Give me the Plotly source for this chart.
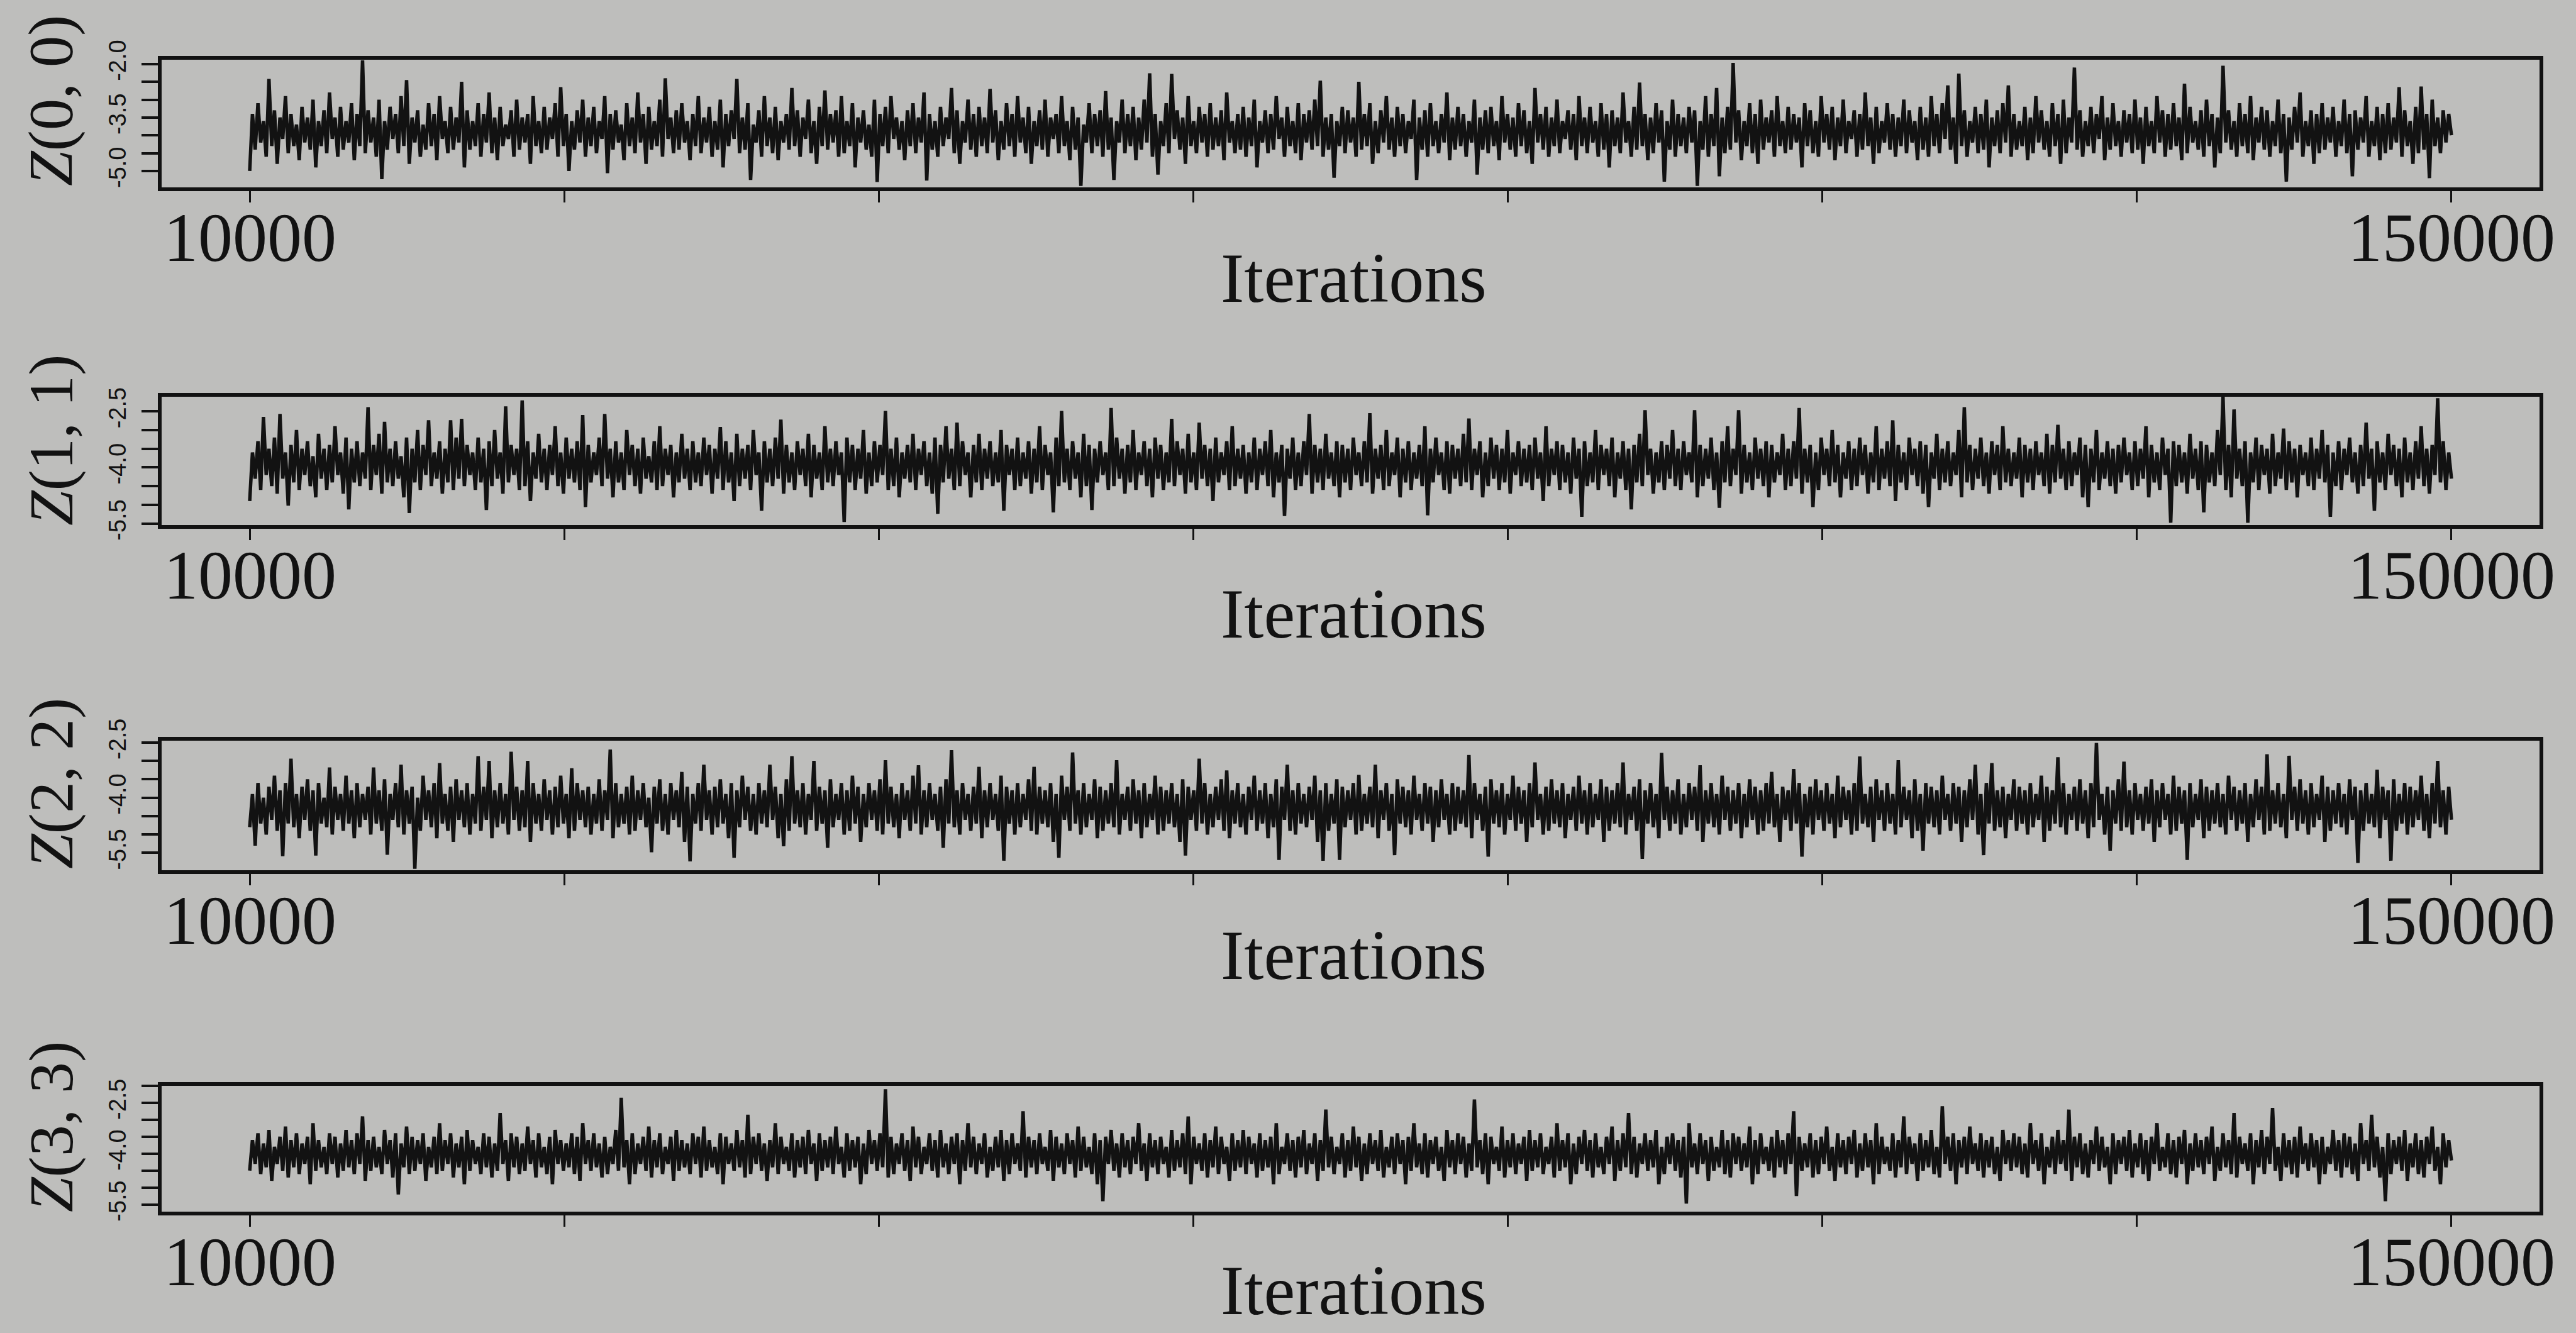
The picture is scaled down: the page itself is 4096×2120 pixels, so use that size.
import plotly.graph_objects as go

# ---------------- data ----------------
# Each trace is stored as its local highs (peaks) and local lows (troughs),
# read off the printed trace; the drawn series alternates trough, peak, trough, ...
ITER_START = 10000
ITER_END = 150000
x_tick_values = [10000, 30000, 50000, 70000, 90000, 110000, 130000, 150000]
x_tick_labels = ["10000", "", "", "", "", "", "", "150000"]

panel_labels = ["<i>Z</i>(0, 0)", "<i>Z</i>(1, 1)", "<i>Z</i>(2, 2)", "<i>Z</i>(3, 3)"]

y_tick_values_0 = [-5.0, -4.5, -4.0, -3.5, -3.0, -2.5, -2.0]
y_tick_labels_0 = ["-5.0", "", "", "-3.5", "", "", "-2.0"]
y_tick_values_1 = [-5.5, -5.0, -4.5, -4.0, -3.5, -3.0, -2.5]
y_tick_labels_1 = ["-5.5", "", "", "-4.0", "", "", "-2.5"]
y_tick_values_2 = [-5.5, -5.0, -4.5, -4.0, -3.5, -3.0, -2.5]
y_tick_labels_2 = ["-5.5", "", "", "-4.0", "", "", "-2.5"]
y_tick_values_3 = [-5.5, -5.0, -4.5, -4.0, -3.5, -3.0, -2.5, -2.0]
y_tick_labels_3 = ["-5.5", "", "", "-4.0", "", "", "-2.5", ""]

z00_peaks = [
    -3.4, -3.1, -3.6, -2.42, -3.3, -3.5, -2.9, -3.4, -3.7, -3.2, -3.5, -3.0, -3.6, -3.3, -2.8, -3.5, -3.2, -3.6, -3.1, -3.4,
    -1.9, -3.3, -3.5, -3.0, -3.6, -3.2, -3.4, -2.9, -2.45, -3.5, -3.3, -3.7, -3.1, -3.4, -2.9, -3.6, -3.2, -3.5, -2.5, -3.3,
    -3.6, -3.1, -3.4, -2.8, -3.5, -3.2, -3.7, -3.3, -3.0, -3.5, -3.4, -2.9, -3.6, -3.2, -3.5, -3.1, -2.65, -3.4, -3.6, -3.3,
    -3.0, -3.5, -3.2, -3.6, -2.9, -3.4, -3.3, -3.7, -3.1, -3.5, -2.8, -3.4, -3.2, -3.6, -3.0, -2.4, -3.5, -3.3, -3.1, -3.6,
    -3.4, -2.9, -3.5, -3.2, -3.6, -3.0, -3.4, -3.3, -2.42, -3.5, -3.1, -3.7, -3.3, -2.9, -3.5, -3.2, -3.6, -3.4, -2.67, -3.3,
    -3.5, -3.0, -3.6, -3.2, -2.74, -3.4, -3.3, -2.9, -3.6, -3.1, -3.5, -3.3, -3.7, -3.0, -3.4, -3.2, -2.9, -3.5, -3.6, -3.3,
    -3.1, -3.5, -2.8, -3.4, -3.6, -3.2, -3.5, -2.67, -3.3, -3.6, -3.0, -3.4, -3.2, -3.5, -2.7, -3.3, -3.6, -3.1, -3.4, -2.9,
    -3.5, -3.2, -3.6, -3.3, -3.0, -3.5, -3.4, -2.9, -3.6, -3.2, -3.5, -3.7, -3.1, -3.4, -3.3, -2.76, -3.5, -3.6, -3.0, -3.4,
    -3.2, -3.5, -3.0, -2.26, -3.4, -3.6, -3.1, -2.28, -3.3, -3.5, -2.9, -3.6, -3.2, -3.4, -3.1, -3.5, -3.3, -2.8, -3.6, -3.4,
    -3.2, -3.5, -3.0, -3.6, -3.3, -3.4, -2.9, -3.5, -3.2, -3.6, -3.1, -3.4, -3.3, -3.0, -2.47, -3.5, -3.4, -3.6, -3.2, -3.3,
    -3.5, -2.5, -3.4, -3.1, -3.6, -3.3, -2.9, -3.5, -3.2, -3.4, -3.6, -3.0, -3.5, -3.3, -3.1, -3.6, -3.4, -2.8, -3.5, -3.2,
    -3.4, -3.6, -3.0, -3.5, -3.3, -3.2, -3.6, -2.9, -3.4, -3.5, -3.1, -3.3, -3.6, -2.67, -3.4, -3.2, -3.5, -3.0, -3.6, -3.3,
    -3.4, -2.9, -3.5, -3.2, -3.6, -3.1, -3.4, -3.3, -3.5, -2.8, -3.6, -3.2, -2.52, -3.4, -3.5, -3.1, -3.3, -3.6, -3.0, -3.4,
    -3.5, -3.2, -3.3, -3.6, -2.9, -3.4, -2.67, -3.5, -3.2, -1.97, -3.3, -3.6, -3.1, -3.4, -3.0, -3.5, -3.3, -2.9, -3.6, -3.2,
    -3.4, -3.5, -3.1, -3.3, -3.6, -2.9, -3.4, -3.2, -3.5, -3.0, -3.6, -3.3, -3.4, -2.8, -3.5, -3.2, -3.6, -3.1, -3.4, -3.5,
    -3.0, -3.3, -3.6, -3.2, -3.5, -2.9, -3.4, -3.1, -2.6, -3.5, -2.27, -3.3, -3.6, -3.2, -3.4, -3.0, -3.5, -3.3, -3.1, -2.6,
    -3.4, -3.6, -3.2, -3.5, -2.9, -3.3, -3.6, -3.1, -3.4, -3.0, -3.5, -2.1, -3.3, -3.6, -3.2, -3.4, -2.9, -3.5, -3.1, -3.6,
    -3.3, -3.4, -3.0, -3.5, -3.2, -3.6, -2.9, -3.3, -3.4, -3.1, -3.5, -2.55, -3.2, -3.6, -3.3, -3.0, -3.4, -3.5, -2.05, -3.3,
    -3.6, -3.1, -3.4, -2.9, -3.5, -3.2, -3.3, -3.6, -3.0, -3.4, -3.5, -3.2, -2.8, -3.6, -3.3, -3.4, -3.1, -3.5, -3.2, -3.6,
    -3.0, -3.4, -3.3, -3.5, -2.9, -3.6, -3.2, -3.4, -3.1, -3.5, -2.65, -3.3, -3.6, -3.2, -2.63, -3.4, -3.0, -3.5, -3.3, -3.4,
]
z00_troughs = [
    -5.0, -4.4, -4.2, -4.6, -4.3, -4.8, -4.1, -4.5, -4.3, -4.7, -4.2, -4.4, -4.9, -4.3, -4.5, -4.1, -4.6, -4.4, -4.2, -4.7,
    -4.3, -4.5, -4.2, -4.6, -5.23, -4.4, -4.1, -4.5, -4.3, -4.8, -4.2, -4.6, -4.4, -4.3, -4.7, -4.1, -4.5, -4.4, -4.2, -4.9,
    -4.4, -4.3, -4.6, -4.2, -4.5, -4.7, -4.3, -4.1, -4.6, -4.4, -4.2, -4.8, -4.3, -4.5, -4.4, -4.1, -4.6, -4.3, -5.0, -4.4,
    -4.2, -4.6, -4.3, -4.5, -4.1, -5.06, -4.4, -4.2, -4.7, -4.3, -4.5, -4.2, -4.8, -4.4, -4.3, -4.6, -4.1, -4.5, -4.4, -4.2,
    -4.7, -4.3, -4.5, -4.2, -4.6, -4.4, -4.9, -4.3, -4.1, -4.5, -4.4, -5.25, -4.2, -4.6, -4.3, -4.5, -4.7, -4.2, -4.4, -4.3,
    -4.6, -4.1, -4.5, -4.8, -4.3, -4.4, -4.2, -4.6, -4.5, -4.3, -4.9, -4.2, -4.4, -4.6, -5.31, -4.3, -4.5, -4.1, -4.4, -4.7,
    -4.3, -4.5, -4.2, -5.27, -4.4, -4.6, -4.3, -4.1, -4.5, -4.8, -4.2, -4.4, -4.6, -4.3, -4.5, -4.2, -4.7, -4.4, -4.3, -4.6,
    -4.2, -4.5, -4.8, -4.3, -4.4, -4.6, -4.1, -4.5, -4.3, -4.7, -4.4, -5.42, -4.2, -4.5, -4.3, -4.6, -4.4, -5.25, -4.2, -4.5,
    -4.3, -4.7, -4.4, -4.2, -4.6, -5.1, -4.3, -4.5, -4.1, -4.4, -4.8, -4.3, -4.5, -4.2, -4.6, -4.4, -4.3, -4.7, -4.2, -4.5,
    -4.4, -4.6, -4.3, -4.9, -4.2, -4.5, -4.4, -4.1, -4.6, -4.3, -4.5, -4.7, -4.2, -4.4, -4.3, -4.6, -4.4, -5.19, -4.3, -4.5,
    -4.2, -4.6, -4.4, -4.3, -4.8, -4.5, -4.2, -4.4, -4.6, -4.3, -4.5, -4.1, -5.25, -4.4, -4.6, -4.3, -4.5, -4.2, -4.7, -4.4,
    -4.3, -4.6, -4.2, -5.1, -4.4, -4.5, -4.3, -4.7, -4.2, -4.4, -4.6, -4.3, -4.5, -4.8, -4.2, -4.4, -4.6, -4.3, -4.5, -4.1,
    -4.4, -4.7, -4.3, -4.5, -4.2, -4.6, -4.4, -4.9, -4.3, -4.5, -4.2, -4.6, -4.4, -4.3, -4.7, -4.5, -4.2, -5.3, -4.4, -4.6,
    -4.3, -4.5, -4.2, -5.42, -4.4, -4.6, -4.3, -5.15, -4.5, -4.4, -4.2, -4.7, -4.3, -4.5, -4.8, -4.4, -4.2, -4.6, -4.3, -4.5,
    -4.4, -4.2, -4.9, -4.3, -4.5, -4.6, -4.2, -4.4, -4.7, -4.3, -4.5, -4.1, -4.6, -4.4, -4.3, -4.8, -4.5, -4.2, -4.4, -4.6,
    -4.3, -4.5, -4.2, -4.7, -4.4, -4.6, -4.3, -4.5, -4.1, -4.4, -4.8, -4.3, -4.6, -4.2, -4.5, -4.4, -4.9, -4.3, -4.5, -4.2,
    -4.6, -4.4, -4.3, -4.7, -4.5, -4.2, -4.4, -4.6, -4.3, -4.8, -4.5, -4.2, -4.4, -4.6, -4.3, -4.5, -4.1, -4.7, -4.4, -4.3,
    -4.6, -4.2, -4.5, -4.4, -4.8, -4.3, -4.5, -4.2, -4.6, -4.4, -4.3, -4.7, -4.5, -4.2, -4.4, -4.6, -4.3, -4.9, -4.5, -4.2,
    -4.4, -4.6, -4.3, -4.5, -4.7, -4.2, -4.4, -4.6, -4.3, -4.5, -5.3, -4.4, -4.2, -4.6, -4.3, -4.8, -4.5, -4.4, -4.2, -4.6,
    -4.3, -4.5, -5.15, -4.4, -4.2, -4.6, -4.3, -4.7, -4.5, -4.4, -4.2, -4.6, -4.3, -4.8, -4.5, -4.4, -5.2, -4.3, -4.5, -4.2, -4.0,
]

z11_peaks = [
    -3.6, -3.3, -2.65, -3.5, -3.2, -2.57, -3.6, -3.4, -3.0, -3.5, -3.3, -3.7, -3.1, -3.5, -3.4, -2.9, -3.6, -3.2, -3.5, -3.3,
    -3.6, -2.39, -3.4, -3.1, -2.78, -3.5, -3.3, -3.7, -3.2, -3.5, -3.0, -3.4, -2.74, -3.6, -3.3, -3.5, -2.74, -3.2, -2.7, -3.4,
    -3.6, -3.2, -3.5, -3.3, -3.0, -3.6, -2.37, -3.4, -3.5, -2.21, -3.3, -3.6, -3.1, -3.5, -3.4, -2.9, -3.6, -3.2, -3.5, -3.3,
    -2.6, -3.4, -3.6, -3.2, -2.57, -3.5, -3.3, -3.6, -3.0, -3.4, -3.5, -3.2, -3.7, -3.3, -2.9, -3.5, -3.4, -3.6, -3.1, -3.5,
    -3.3, -3.6, -3.2, -3.4, -3.5, -2.92, -3.3, -3.6, -3.1, -3.5, -3.4, -3.0, -3.6, -3.3, -3.5, -3.2, -2.72, -3.4, -3.6, -3.3,
    -3.5, -3.1, -3.4, -3.6, -2.9, -3.5, -3.3, -3.6, -3.2, -3.4, -3.5, -3.0, -3.6, -3.3, -3.4, -2.49, -3.5, -3.2, -3.6, -3.4,
    -3.1, -3.5, -3.3, -3.6, -3.2, -3.4, -2.9, -3.5, -2.8, -3.3, -3.6, -3.4, -3.1, -3.5, -3.3, -3.6, -3.0, -3.4, -3.5, -3.2,
    -3.6, -3.3, -3.5, -2.9, -3.4, -3.6, -3.2, -2.49, -3.5, -3.3, -3.6, -3.1, -3.4, -3.5, -3.3, -3.6, -2.41, -3.2, -3.5, -3.4,
    -3.0, -3.6, -3.3, -3.5, -3.2, -3.4, -3.6, -2.7, -3.3, -3.5, -3.1, -3.6, -2.8, -3.4, -3.5, -3.2, -3.6, -3.3, -2.9, -3.5,
    -3.4, -3.6, -3.2, -3.5, -3.3, -3.0, -3.6, -3.4, -3.5, -3.2, -3.6, -3.3, -2.57, -3.4, -3.5, -3.1, -3.6, -3.3, -3.4, -3.5,
    -3.2, -3.6, -3.3, -2.55, -3.5, -3.4, -3.0, -3.6, -3.2, -3.5, -3.3, -3.6, -3.4, -2.9, -3.5, -3.2, -3.6, -3.3, -3.4, -3.5,
    -3.1, -2.69, -3.5, -3.3, -3.6, -3.2, -3.4, -3.5, -3.0, -3.6, -3.3, -3.5, -3.4, -3.2, -3.6, -2.9, -3.5, -3.3, -3.4, -3.6,
    -3.2, -3.5, -3.3, -3.6, -3.0, -3.4, -3.5, -3.2, -3.6, -3.3, -3.5, -3.4, -3.1, -2.47, -3.5, -3.6, -3.3, -3.4, -3.0, -3.5,
    -3.3, -3.6, -2.47, -3.4, -3.5, -3.2, -3.6, -3.3, -2.9, -3.5, -2.47, -3.4, -3.6, -3.2, -3.5, -3.3, -3.4, -3.6, -3.1, -3.5,
    -3.3, -2.41, -3.5, -3.4, -3.6, -3.2, -3.5, -3.0, -3.4, -3.6, -3.3, -3.5, -3.2, -3.4, -3.6, -2.9, -3.5, -3.3, -2.74, -3.4,
    -3.6, -3.2, -3.5, -3.3, -3.4, -3.6, -3.1, -3.5, -3.3, -3.6, -3.0, -2.39, -3.4, -3.5, -3.2, -3.6, -3.3, -3.4, -2.9, -3.5,
    -3.6, -3.2, -3.4, -3.5, -3.3, -3.6, -3.1, -3.4, -2.86, -3.5, -3.3, -3.6, -3.2, -3.4, -3.5, -3.0, -3.6, -3.3, -3.5, -3.4,
    -3.2, -3.6, -3.3, -3.5, -2.9, -3.4, -3.6, -3.2, -3.5, -3.3, -3.4, -3.6, -3.1, -3.5, -3.3, -3.4, -3.6, -3.0, -2.11, -3.4,
    -2.45, -3.5, -3.3, -3.6, -3.2, -3.4, -3.5, -3.1, -3.6, -2.96, -3.3, -3.5, -3.4, -3.6, -3.2, -3.5, -3.0, -3.4, -3.6, -3.3,
    -3.5, -3.2, -3.6, -3.4, -2.8, -3.5, -3.3, -3.6, -3.1, -3.4, -3.5, -3.2, -3.6, -3.3, -2.9, -3.5, -3.4, -2.15, -3.3, -3.6,
]
z11_troughs = [
    -4.9, -4.3, -4.6, -4.2, -4.5, -4.7, -4.3, -5.02, -4.4, -4.6, -4.2, -4.5, -4.8, -4.3, -4.6, -4.4, -4.2, -4.7, -5.12, -4.4,
    -4.5, -4.3, -4.6, -4.2, -4.7, -4.4, -4.5, -4.3, -4.8, -5.22, -4.4, -4.6, -4.2, -4.5, -4.3, -4.7, -4.4, -4.6, -4.3, -4.5,
    -4.2, -4.6, -4.4, -5.14, -4.5, -4.3, -4.7, -4.4, -4.2, -4.6, -4.5, -4.9, -4.3, -4.4, -4.6, -4.2, -4.5, -4.7, -4.3, -4.4,
    -4.6, -5.06, -4.4, -4.2, -4.5, -4.3, -4.8, -4.4, -4.6, -4.2, -4.5, -4.7, -4.3, -4.4, -4.6, -4.5, -4.2, -4.8, -4.4, -4.3,
    -4.6, -4.4, -4.5, -4.2, -4.7, -4.3, -4.6, -4.4, -4.9, -4.5, -4.3, -4.6, -4.2, -5.16, -4.4, -4.5, -4.3, -4.7, -4.4, -4.6,
    -4.2, -4.5, -4.8, -4.3, -4.6, -4.4, -4.5, -4.2, -5.46, -4.4, -4.6, -4.3, -4.7, -4.5, -4.4, -4.2, -4.6, -4.5, -4.8, -4.3,
    -4.4, -4.6, -4.2, -4.5, -4.7, -5.24, -4.4, -4.3, -4.6, -4.5, -4.2, -4.8, -4.4, -4.6, -4.3, -4.5, -4.4, -5.16, -4.2, -4.6,
    -4.5, -4.3, -4.7, -4.4, -4.6, -4.2, -5.2, -4.5, -4.4, -4.6, -4.3, -4.8, -4.5, -5.14, -4.4, -4.2, -4.6, -4.5, -4.3, -4.7,
    -4.4, -4.6, -4.2, -4.5, -4.8, -4.3, -4.6, -4.4, -4.5, -4.2, -4.7, -4.4, -4.6, -4.3, -4.5, -4.9, -4.4, -4.2, -4.6, -4.5,
    -4.3, -4.7, -4.4, -4.6, -4.2, -4.5, -4.8, -4.4, -5.3, -4.3, -4.6, -4.5, -4.2, -4.7, -4.4, -4.6, -4.3, -4.5, -4.8, -4.4,
    -4.6, -4.2, -4.5, -4.4, -4.7, -4.3, -4.6, -4.5, -4.2, -4.8, -4.4, -4.6, -4.3, -4.5, -5.28, -4.4, -4.2, -4.6, -4.7, -4.3,
    -4.5, -4.4, -4.6, -4.2, -4.8, -4.5, -4.3, -4.6, -4.4, -4.7, -4.2, -4.5, -4.4, -4.6, -4.3, -4.9, -4.5, -4.2, -4.6, -4.4,
    -4.7, -4.3, -5.32, -4.5, -4.4, -4.6, -4.2, -4.5, -4.8, -4.3, -4.6, -5.12, -4.4, -4.5, -4.2, -4.7, -4.4, -4.6, -4.3, -4.5,
    -4.6, -4.2, -4.4, -4.8, -4.5, -4.3, -4.6, -5.08, -4.4, -4.5, -4.2, -4.7, -4.4, -4.6, -4.3, -4.5, -4.8, -4.4, -4.2, -4.6,
    -4.5, -4.3, -4.7, -4.4, -5.06, -4.6, -4.2, -4.5, -4.4, -4.8, -4.3, -4.6, -4.5, -4.2, -4.7, -4.4, -4.6, -4.3, -4.5, -4.9,
    -4.4, -4.6, -4.2, -4.5, -4.7, -5.06, -4.3, -4.6, -4.4, -4.5, -4.2, -4.8, -4.4, -4.6, -4.3, -4.5, -4.7, -4.2, -4.6, -4.4,
    -4.5, -4.3, -4.8, -4.4, -4.6, -4.2, -4.5, -4.7, -4.4, -4.3, -4.6, -4.5, -4.2, -4.8, -5.06, -4.4, -4.6, -4.3, -4.5, -4.7,
    -4.4, -4.2, -4.6, -4.5, -4.3, -4.8, -4.4, -4.6, -4.2, -5.48, -4.5, -4.4, -4.7, -4.3, -4.6, -5.2, -4.4, -4.5, -4.2, -4.6,
    -4.8, -4.3, -4.5, -5.48, -4.4, -4.6, -4.2, -4.7, -4.5, -4.3, -4.6, -4.4, -4.8, -4.2, -4.5, -4.6, -4.3, -4.4, -5.32, -4.5,
    -4.6, -4.2, -4.4, -4.7, -4.5, -4.3, -5.16, -4.4, -4.6, -4.2, -4.5, -4.8, -4.4, -4.6, -4.3, -4.5, -4.7, -4.2, -4.4, -4.6, -4.3,
]

z22_peaks = [
    -3.9, -3.6, -4.0, -3.7, -3.4, -3.8, -3.6, -2.94, -3.9, -3.7, -3.5, -3.8, -3.6, -4.0, -3.18, -3.7, -3.9, -3.4, -3.8, -3.6,
    -3.9, -3.7, -3.18, -3.8, -3.5, -3.9, -3.6, -3.1, -3.8, -3.7, -4.0, -3.4, -3.8, -3.6, -3.06, -3.9, -3.7, -3.5, -3.8, -3.6,
    -3.9, -2.87, -3.7, -3.0, -3.8, -3.6, -3.9, -2.75, -3.7, -3.8, -3.0, -3.6, -3.9, -3.5, -3.8, -3.7, -3.4, -3.9, -3.2, -3.6,
    -3.8, -3.7, -3.9, -3.5, -3.8, -2.69, -3.6, -3.9, -3.7, -3.4, -3.8, -3.6, -4.0, -3.7, -3.5, -3.9, -3.6, -3.8, -3.3, -3.7,
    -3.9, -3.6, -3.1, -3.8, -3.7, -3.5, -3.9, -3.6, -3.8, -3.4, -3.7, -3.9, -3.6, -3.8, -3.1, -3.7, -3.9, -3.5, -2.87, -3.8,
    -3.6, -3.9, -3.0, -3.7, -3.8, -3.5, -3.9, -3.6, -3.8, -3.4, -3.7, -3.9, -3.6, -3.8, -3.5, -2.98, -3.7, -3.9, -3.6, -3.8,
    -3.4, -3.12, -3.8, -3.6, -3.9, -3.7, -3.5, -2.71, -3.8, -3.6, -3.9, -3.7, -3.16, -3.8, -3.6, -3.9, -3.4, -3.7, -3.8, -3.6,
    -3.9, -3.5, -3.16, -3.7, -3.8, -3.6, -3.9, -3.4, -3.7, -2.77, -3.8, -3.6, -3.9, -3.5, -3.7, -3.8, -3.6, -2.98, -3.9, -3.7,
    -3.5, -3.8, -3.6, -3.9, -3.4, -3.7, -3.8, -3.6, -3.9, -3.5, -3.7, -3.8, -2.94, -3.6, -3.9, -3.7, -3.5, -3.26, -3.8, -3.6,
    -3.9, -3.7, -3.4, -3.8, -3.6, -3.9, -3.5, -3.7, -3.1, -3.8, -3.6, -3.9, -3.7, -3.4, -3.8, -3.6, -3.9, -3.5, -3.7, -3.8,
    -3.6, -3.38, -3.9, -3.7, -3.1, -3.8, -3.6, -3.9, -3.5, -3.7, -3.8, -3.4, -3.9, -3.6, -3.7, -3.8, -3.5, -3.9, -3.6, -3.7,
    -3.8, -2.84, -3.6, -3.9, -3.7, -3.5, -3.8, -3.6, -3.9, -3.4, -3.7, -3.8, -3.6, -3.04, -3.9, -3.7, -3.5, -3.8, -3.6, -3.9,
    -3.7, -3.4, -3.8, -3.6, -3.9, -3.5, -3.7, -3.8, -3.6, -3.04, -3.9, -3.7, -3.5, -3.8, -3.6, -3.9, -2.78, -3.7, -3.8, -3.5,
    -3.9, -3.6, -3.7, -3.12, -3.8, -3.6, -3.9, -3.4, -3.7, -3.8, -3.6, -3.9, -3.5, -3.7, -3.8, -3.6, -3.3, -3.9, -3.7, -3.8,
    -3.22, -3.6, -3.9, -3.7, -3.5, -3.8, -3.6, -3.9, -3.4, -3.7, -3.8, -3.6, -2.88, -3.9, -3.7, -3.5, -3.8, -3.6, -3.9, -2.98,
    -3.7, -3.8, -3.5, -3.9, -3.6, -3.7, -3.8, -3.4, -3.9, -3.6, -3.7, -3.8, -3.5, -3.1, -3.9, -3.6, -3.06, -3.8, -3.7, -3.9,
    -3.5, -3.7, -3.8, -3.6, -3.9, -3.4, -3.7, -3.8, -2.9, -3.6, -3.9, -3.7, -3.5, -3.8, -3.6, -2.51, -3.9, -3.7, -3.8, -3.5,
    -3.02, -3.8, -3.6, -3.9, -3.7, -3.5, -3.8, -3.6, -3.9, -3.4, -3.7, -3.8, -3.6, -3.9, -3.5, -3.7, -3.8, -3.6, -3.9, -3.4,
    -3.7, -3.8, -3.6, -3.9, -3.5, -3.7, -2.82, -3.8, -3.6, -3.9, -2.86, -3.7, -3.5, -3.8, -3.6, -3.9, -3.4, -3.7, -3.8, -3.6,
    -3.9, -3.5, -3.7, -3.8, -3.6, -3.9, -3.24, -3.7, -3.8, -3.5, -3.9, -3.6, -3.7, -3.8, -3.4, -3.9, -3.6, -3.0, -3.8, -3.7,
]
z22_troughs = [
    -4.8, -5.3, -4.7, -5.0, -4.6, -4.9, -5.59, -4.7, -4.8, -5.1, -4.6, -4.9, -5.57, -4.7, -4.8, -5.0, -4.6, -4.9, -4.7, -5.1,
    -4.8, -4.6, -5.0, -4.7, -4.9, -5.55, -4.6, -4.8, -5.0, -4.7, -5.93, -4.9, -4.6, -4.8, -5.1, -4.7, -4.9, -5.2, -4.6, -4.8,
    -5.0, -4.7, -4.9, -4.6, -5.1, -4.8, -4.7, -5.0, -4.6, -4.9, -4.8, -5.2, -4.7, -4.9, -4.6, -5.0, -4.8, -4.7, -5.1, -4.9,
    -4.6, -4.8, -5.0, -4.7, -4.9, -4.6, -5.1, -4.8, -4.7, -5.0, -4.9, -4.6, -4.8, -5.48, -4.7, -4.9, -5.0, -4.6, -4.8, -5.2,
    -5.73, -4.7, -4.9, -4.6, -5.0, -4.8, -4.7, -5.1, -5.63, -4.8, -4.6, -4.9, -5.0, -4.7, -4.8, -4.6, -5.1, -5.32, -4.9, -4.7,
    -4.8, -5.0, -4.6, -4.9, -4.7, -5.36, -4.8, -4.6, -5.0, -4.9, -4.7, -5.2, -4.8, -4.6, -4.9, -5.0, -4.7, -4.8, -5.1, -4.6,
    -4.9, -4.7, -5.0, -4.8, -4.6, -4.9, -5.36, -4.7, -4.8, -5.0, -4.6, -4.9, -4.7, -5.1, -4.8, -4.6, -4.9, -5.71, -4.7, -5.0,
    -4.8, -4.6, -4.9, -5.0, -4.7, -4.8, -5.2, -5.63, -4.6, -4.9, -4.7, -5.0, -4.8, -4.6, -5.1, -4.9, -4.7, -4.8, -5.0, -4.6,
    -4.9, -4.7, -5.1, -4.8, -4.6, -5.0, -4.9, -4.7, -4.8, -5.2, -5.57, -4.6, -4.9, -4.7, -5.0, -4.8, -4.6, -4.9, -5.1, -4.7,
    -4.8, -5.0, -4.6, -4.9, -4.7, -5.1, -4.8, -5.69, -4.6, -4.9, -5.0, -4.7, -4.8, -4.6, -5.2, -5.71, -4.9, -4.7, -5.69, -4.8,
    -4.6, -5.0, -4.9, -4.7, -4.8, -5.1, -4.6, -4.9, -5.56, -4.7, -4.8, -5.0, -4.6, -4.9, -4.7, -5.2, -4.8, -4.6, -5.0, -4.9,
    -4.7, -4.8, -5.1, -4.6, -4.9, -5.6, -4.7, -4.8, -5.0, -4.6, -4.9, -4.7, -5.2, -4.8, -4.6, -5.0, -4.9, -4.7, -4.8, -5.1,
    -4.6, -4.9, -4.7, -5.0, -4.8, -4.6, -5.2, -4.9, -4.7, -4.8, -5.0, -4.6, -4.9, -5.66, -4.7, -4.8, -5.1, -4.6, -4.9, -4.7,
    -5.0, -4.8, -4.6, -4.9, -5.2, -4.7, -4.8, -5.0, -4.6, -4.9, -4.7, -5.1, -4.8, -4.6, -5.0, -4.9, -4.7, -4.8, -5.2, -4.6,
    -4.9, -4.7, -5.6, -4.8, -5.0, -4.6, -4.9, -4.7, -5.1, -4.8, -4.6, -5.0, -4.9, -4.7, -4.8, -5.2, -4.6, -4.9, -4.7, -5.0,
    -4.8, -4.6, -5.1, -4.9, -5.44, -4.7, -4.8, -5.0, -4.6, -4.9, -4.7, -5.2, -4.8, -4.6, -5.0, -5.56, -4.7, -4.9, -4.8, -5.1,
    -4.6, -4.9, -4.7, -5.0, -4.8, -4.6, -5.2, -4.9, -4.7, -4.8, -5.0, -4.6, -4.9, -4.7, -5.1, -4.8, -4.6, -5.0, -5.44, -4.7,
    -4.9, -4.8, -5.0, -4.6, -4.9, -4.7, -5.2, -4.8, -4.6, -5.0, -4.9, -4.7, -5.69, -4.8, -4.6, -5.1, -4.9, -4.7, -4.8, -5.0,
    -4.6, -4.9, -4.7, -5.2, -4.8, -4.6, -5.0, -4.9, -4.7, -4.8, -5.1, -4.6, -4.9, -4.7, -5.0, -4.8, -4.6, -5.2, -4.9, -4.7,
    -4.8, -5.0, -4.6, -5.77, -4.9, -4.7, -4.8, -5.1, -4.6, -5.71, -4.9, -4.7, -5.0, -4.8, -4.6, -4.9, -5.1, -4.7, -4.8, -5.0, -4.6,
]

z33_peaks = [
    -3.6, -3.4, -3.7, -3.3, -3.8, -3.5, -3.2, -3.6, -3.4, -3.7, -3.5, -3.1, -3.6, -3.8, -3.4, -3.5, -3.7, -3.3, -3.6, -3.4,
    -2.9, -3.6, -3.5, -3.8, -3.3, -3.6, -3.4, -3.7, -3.2, -3.5, -3.6, -3.4, -3.8, -3.5, -3.1, -3.6, -3.4, -3.7, -3.5, -3.3,
    -3.6, -3.8, -3.4, -3.5, -3.7, -2.8, -3.6, -3.4, -3.5, -3.7, -3.2, -3.6, -3.4, -3.8, -3.5, -3.3, -3.6, -3.7, -3.4, -3.5,
    -3.1, -3.6, -3.4, -3.7, -3.5, -3.8, -3.3, -2.35, -3.6, -3.4, -3.7, -3.5, -3.2, -3.6, -3.4, -3.8, -3.5, -3.3, -3.6, -3.7,
    -3.4, -3.5, -3.2, -3.6, -3.8, -3.4, -3.5, -3.7, -3.3, -3.6, -2.85, -3.5, -3.4, -3.7, -3.6, -3.1, -3.5, -3.8, -3.4, -3.6,
    -3.5, -3.3, -3.7, -3.4, -3.6, -3.5, -3.2, -3.8, -3.4, -3.6, -3.5, -3.7, -3.3, -3.6, -3.4, -2.1, -3.5, -3.7, -3.4, -3.6,
    -3.2, -3.5, -3.8, -3.4, -3.6, -3.3, -3.7, -3.5, -3.4, -3.6, -3.1, -3.5, -3.7, -3.4, -3.8, -3.5, -3.3, -3.6, -3.4, -3.7,
    -2.75, -3.5, -3.6, -3.4, -3.8, -3.3, -3.5, -3.7, -3.4, -3.6, -3.2, -3.5, -3.8, -3.4, -3.6, -3.5, -3.3, -3.7, -3.4, -3.6,
    -3.5, -3.1, -3.7, -3.4, -3.6, -3.5, -3.8, -3.3, -3.6, -3.4, -2.9, -3.5, -3.7, -3.4, -3.6, -3.2, -3.5, -3.8, -3.4, -3.6,
    -3.3, -3.5, -3.7, -3.4, -3.6, -3.5, -3.1, -3.8, -3.4, -3.6, -3.5, -3.3, -3.7, -3.4, -3.6, -2.7, -3.5, -3.8, -3.4, -3.6,
    -3.2, -3.5, -3.7, -3.4, -3.6, -3.3, -3.8, -3.5, -3.4, -3.6, -3.5, -3.1, -3.7, -3.4, -3.6, -3.5, -3.8, -3.3, -3.6, -3.4,
    -3.5, -3.7, -2.4, -3.6, -3.4, -3.5, -3.8, -3.2, -3.6, -3.4, -3.7, -3.5, -3.3, -3.6, -3.4, -3.8, -3.5, -3.1, -3.6, -3.4,
    -3.7, -3.5, -3.3, -3.6, -3.4, -3.8, -3.5, -3.2, -3.6, -3.4, -2.8, -3.5, -3.7, -3.4, -3.6, -3.3, -3.8, -3.5, -3.4, -3.6,
    -3.5, -3.1, -3.7, -3.4, -3.6, -3.5, -3.8, -3.3, -3.6, -3.4, -3.5, -3.7, -3.2, -3.6, -3.4, -3.8, -3.5, -3.3, -3.6, -3.4,
    -2.75, -3.5, -3.7, -3.4, -3.6, -3.5, -3.2, -3.8, -3.4, -3.6, -3.5, -3.3, -3.7, -3.4, -3.6, -3.1, -3.5, -3.8, -3.4, -3.6,
    -2.9, -3.5, -3.7, -3.4, -3.6, -3.3, -3.8, -2.6, -3.5, -3.4, -3.6, -3.5, -3.2, -3.7, -3.4, -3.6, -3.5, -3.8, -3.3, -3.6,
    -3.4, -3.5, -3.7, -3.1, -3.6, -3.4, -3.8, -3.5, -3.3, -3.6, -2.7, -3.5, -3.4, -3.7, -3.6, -3.2, -3.5, -3.8, -3.4, -3.6,
    -3.5, -3.3, -3.7, -3.4, -3.6, -3.5, -3.1, -3.8, -3.4, -3.6, -3.5, -3.3, -3.7, -3.4, -3.6, -3.5, -3.2, -3.8, -3.4, -3.6,
    -2.8, -3.5, -3.7, -3.4, -3.6, -3.3, -3.5, -2.65, -3.8, -3.4, -3.6, -3.5, -3.2, -3.7, -3.4, -3.6, -3.5, -3.8, -3.3, -3.6,
    -3.4, -3.5, -3.7, -3.1, -3.6, -2.85, -3.5, -3.8, -3.4, -3.6, -3.5, -3.3, -3.7, -3.4, -3.6, -3.5, -3.2, -3.8, -3.4, -3.6,
]
z33_troughs = [
    -4.5, -4.3, -4.6, -4.4, -4.8, -4.3, -4.5, -4.7, -4.4, -4.6, -4.3, -4.9, -4.5, -4.4, -4.6, -4.3, -4.7, -4.5, -4.4, -4.6,
    -4.3, -4.8, -4.5, -4.4, -4.6, -4.3, -4.7, -5.2, -4.4, -4.6, -4.5, -4.3, -4.8, -4.4, -4.6, -4.5, -4.3, -4.7, -4.4, -4.9,
    -4.5, -4.3, -4.6, -4.4, -4.7, -4.5, -4.3, -4.8, -4.4, -4.6, -4.5, -4.3, -4.7, -4.4, -4.6, -4.9, -4.3, -4.5, -4.4, -4.6,
    -4.8, -4.3, -4.5, -4.4, -4.7, -4.6, -4.3, -4.5, -4.4, -4.9, -4.6, -4.3, -4.5, -4.7, -4.4, -4.6, -4.3, -4.8, -4.5, -4.4,
    -4.6, -4.3, -4.7, -4.5, -4.4, -4.6, -4.9, -4.3, -4.5, -4.4, -4.7, -4.6, -4.3, -4.5, -4.8, -4.4, -4.6, -4.3, -4.5, -4.7,
    -4.4, -4.6, -4.3, -4.8, -4.5, -4.4, -4.6, -4.3, -4.7, -4.5, -4.4, -4.9, -4.6, -4.3, -4.5, -4.4, -4.7, -4.6, -4.3, -4.5,
    -4.8, -4.4, -4.6, -4.3, -4.5, -4.7, -4.4, -4.6, -4.3, -4.9, -4.5, -4.4, -4.6, -4.3, -4.7, -4.5, -4.4, -4.8, -4.6, -4.3,
    -4.5, -4.7, -4.4, -4.6, -4.3, -4.5, -4.8, -4.4, -4.6, -4.3, -4.7, -4.5, -4.4, -4.6, -4.9, -5.4, -4.3, -4.5, -4.7, -4.4,
    -4.6, -4.3, -4.5, -4.8, -4.4, -4.6, -4.3, -4.7, -4.5, -4.4, -4.6, -4.9, -4.3, -4.5, -4.7, -4.4, -4.6, -4.3, -4.8, -4.5,
    -4.4, -4.6, -4.3, -4.7, -4.5, -4.4, -4.9, -4.6, -4.3, -4.5, -4.7, -4.4, -4.6, -4.3, -4.8, -4.5, -4.4, -4.6, -4.3, -4.7,
    -4.5, -4.4, -4.8, -4.6, -4.3, -4.5, -4.7, -4.4, -4.6, -4.3, -4.9, -4.5, -4.4, -4.6, -4.7, -4.3, -4.5, -4.8, -4.4, -4.6,
    -4.3, -4.7, -4.5, -4.4, -4.6, -4.9, -4.3, -4.5, -4.7, -4.4, -4.6, -4.3, -4.8, -4.5, -4.4, -4.6, -4.3, -4.7, -4.5, -4.4,
    -4.9, -4.6, -4.3, -4.5, -4.7, -4.4, -4.6, -4.3, -4.8, -4.5, -4.4, -4.6, -4.7, -4.3, -4.5, -4.4, -4.9, -4.6, -4.3, -4.5,
    -4.7, -5.47, -4.4, -4.6, -4.3, -4.8, -4.5, -4.4, -4.6, -4.7, -4.3, -4.5, -4.4, -4.9, -4.6, -4.3, -4.5, -4.7, -4.4, -4.6,
    -4.3, -5.25, -4.5, -4.4, -4.7, -4.6, -4.3, -4.5, -4.8, -4.4, -4.6, -4.3, -4.7, -4.5, -4.4, -4.9, -4.6, -4.3, -4.5, -4.7,
    -4.4, -4.6, -4.3, -4.8, -4.5, -4.4, -4.6, -4.7, -4.3, -4.5, -4.9, -4.4, -4.6, -4.3, -4.5, -4.7, -4.4, -4.6, -4.8, -4.3,
    -4.5, -4.4, -4.6, -4.7, -4.3, -4.5, -4.9, -4.4, -4.6, -4.3, -4.5, -4.8, -4.4, -4.6, -4.7, -4.3, -4.5, -4.4, -4.9, -4.6,
    -4.3, -4.5, -4.7, -4.4, -4.6, -4.8, -4.3, -4.5, -4.4, -4.6, -4.7, -4.3, -4.9, -4.5, -4.4, -4.6, -4.3, -4.8, -4.5, -4.4,
    -4.6, -4.7, -4.3, -4.5, -4.9, -4.4, -4.6, -4.3, -4.5, -4.8, -4.4, -4.6, -4.7, -4.3, -4.5, -4.4, -4.9, -4.6, -4.3, -4.5,
    -4.7, -4.4, -4.6, -4.8, -4.3, -4.5, -4.4, -4.7, -5.4, -4.6, -4.3, -4.5, -4.8, -4.4, -4.6, -4.7, -4.3, -4.5, -4.9, -4.4, -4.2,
]

peaks = [z00_peaks, z11_peaks, z22_peaks, z33_peaks]
troughs = [z00_troughs, z11_troughs, z22_troughs, z33_troughs]
y_ranges = [[-5.46, -1.88], [-5.54, -2.11], [-5.97, -2.45], [-5.71, -2.0]]
y_ticks = [(y_tick_values_0, y_tick_labels_0), (y_tick_values_1, y_tick_labels_1),
           (y_tick_values_2, y_tick_labels_2), (y_tick_values_3, y_tick_labels_3)]


def alternate(lows, highs):
    out = []
    for j, lo in enumerate(lows):
        out.append(lo)
        if j < len(highs):
            out.append(highs[j])
    return out


# ---------------- layout (pixels in the 4096x2120 window) ----------------
W, H = 4096, 2120
BOX_L, BOX_R = 257, 4038
panel_tops = [95, 631, 1178, 1727]
panel_bottoms = [298, 835, 1384, 1927]
iter_label_y = [442, 976, 1519, 2052]
zlabel_y = [160, 700, 1246, 1792]
XLAB_OFFSET = 80

BG = "#bebebc"
INK = "#121212"

fig = go.Figure()
layout = dict(
    template="none",
    width=W, height=H, autosize=False,
    margin=dict(l=0, r=0, t=0, b=0, pad=0),
    paper_bgcolor=BG, plot_bgcolor=BG,
    showlegend=False,
)

annotations = []
for k in range(4):
    vals = alternate(troughs[k], peaks[k])
    n = len(vals)
    xs = [ITER_START + (ITER_END - ITER_START) * i / (n - 1) for i in range(n)]
    suffix = "" if k == 0 else str(k + 1)
    fig.add_trace(go.Scatter(
        x=xs, y=vals, mode="lines",
        line=dict(color=INK, width=5.5),
        xaxis="x" + suffix, yaxis="y" + suffix, hoverinfo="skip",
    ))
    y0 = 1 - panel_bottoms[k] / H
    y1 = 1 - panel_tops[k] / H
    layout["xaxis" + suffix] = dict(
        domain=[BOX_L / W, BOX_R / W], range=[4400, 155600],
        anchor="y" + suffix, automargin=False,
        tickmode="array", tickvals=x_tick_values, ticktext=[""] * len(x_tick_values),
        ticks="outside", ticklen=18, tickwidth=3, tickcolor=INK,
        showline=True, linecolor=INK, linewidth=5.5, mirror=True,
        showgrid=False, zeroline=False,
    )
    tv, tt = y_ticks[k]
    layout["yaxis" + suffix] = dict(
        domain=[y0, y1], range=y_ranges[k],
        anchor="x" + suffix, automargin=False,
        tickmode="array", tickvals=tv, ticktext=tt, tickangle=-90,
        ticks="outside", ticklen=26, tickwidth=3.5, tickcolor=INK,
        ticklabelstandoff=10,
        showline=True, linecolor=INK, linewidth=5.5, mirror=True,
        showgrid=False, zeroline=False,
        tickfont=dict(family="Liberation Sans", size=38, color=INK),
    )
    for xv, xt in zip(x_tick_values, x_tick_labels):
        if xt:
            annotations.append(dict(
                text=xt, xref="x" + suffix, yref="paper",
                x=xv, y=1 - (panel_bottoms[k] + XLAB_OFFSET) / H,
                xanchor="center", yanchor="middle", showarrow=False,
                font=dict(family="Liberation Serif", size=110, color=INK),
            ))
    annotations.append(dict(
        text="Iterations", xref="paper", yref="paper",
        x=2152 / W, y=1 - iter_label_y[k] / H, xanchor="center", yanchor="middle",
        showarrow=False, font=dict(family="Liberation Serif", size=112, color=INK),
    ))
    annotations.append(dict(
        text=panel_labels[k], xref="paper", yref="paper", textangle=-90,
        x=81 / W, y=1 - zlabel_y[k] / H, xanchor="center", yanchor="middle",
        showarrow=False, font=dict(family="Liberation Serif", size=100, color=INK),
    ))

layout["annotations"] = annotations
fig.update_layout(**layout)
fig.write_html("out.html")
